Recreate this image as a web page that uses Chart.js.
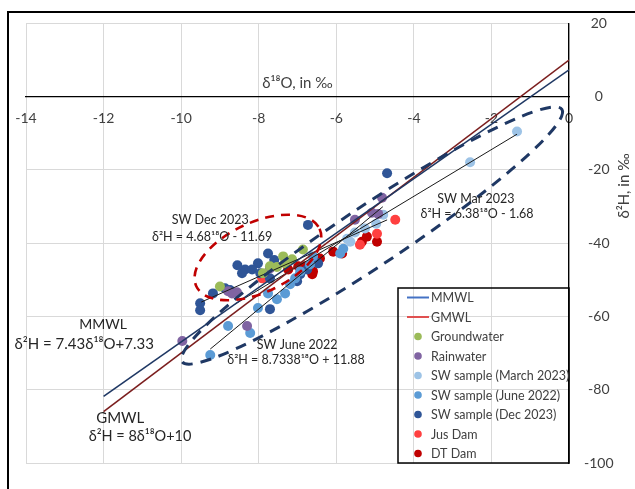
<!DOCTYPE html>
<html><head><meta charset="utf-8">
<style>html,body{margin:0;padding:0;background:#fff;overflow:hidden}#wrap{position:relative;width:635px;height:489px}</style>
<script src="https://cdn.jsdelivr.net/npm/chart.js@4.4.1/dist/chart.umd.min.js"></script>
</head><body><div id="wrap"><canvas id="c" width="635" height="489"></canvas></div>
<script>
// ---- axis ticks ----
const xTicks = [-14, -12, -10, -8, -6, -4, -2, 0];
const yTicks = [20, 0, -20, -40, -60, -80, -100];

// ---- meteoric water lines (end points) ----
const mmwlX = [-12, 0];
const mmwlY = [-81.83, 7.33];
const gmwlX = [-12, 0];
const gmwlY = [-86, 10];

// ---- regression lines (end points) ----
const decFitX = [-9.48, -4.69];
const decFitY = [-56.06, -33.64];
const marFitX = [-8.6, -1.34];
const marFitY = [-56.55, -10.23];
const junFitX = [-9.25, -4.8];
const junFitY = [-68.9, -30.04];

// ---- samples ----
const groundwaterX = [-6.86, -7.37, -7.14, -7.53, -7.89, -7.71, -9.0, -7.32];
const groundwaterY = [-41.7, -43.6, -44.4, -46.5, -48.2, -46.3, -51.8, -45.5];

const rainwaterX = [-9.97, -8.30, -8.69, -8.56, -8.79, -7.71, -4.82, -5.52, -5.08, -4.92];
const rainwaterY = [-66.7, -62.6, -53.7, -53.4, -53.1, -46.9, -27.6, -33.6, -31.7, -32.0];

const swMarX = [-1.34, -2.55, -4.79, -5.26, -5.64, -5.72, -4.97, -5.52];
const swMarY = [-9.5, -17.9, -32.2, -36.0, -39.6, -38.8, -34.7, -37.1];

const swJunX = [-9.25, -8.79, -8.22, -8.02, -7.76, -7.53, -7.32, -7.19, -7.06, -6.93, -6.68, -6.60, -5.90, -5.82];
const swJunY = [-70.5, -62.6, -64.5, -57.7, -53.7, -55.3, -53.7, -51.2, -49.6, -47.7, -45.8, -43.6, -42.8, -41.5];

const swDecX = [-4.69, -6.73, -7.76, -8.02, -8.35, -8.43, -8.17, -7.96, -7.71, -9.18, -8.87, -9.51, -9.51, -7.71, -6.93, -6.75, -7.01, -6.47, -8.74, -7.60, -8.55];
const swDecY = [-20.9, -35.0, -42.8, -45.5, -47.2, -48.2, -47.2, -48.2, -49.6, -53.7, -52.3, -56.4, -58.3, -58.0, -48.5, -47.2, -50.4, -45.5, -52.8, -44.6, -46.0];

const jusDamX = [-4.48, -4.95, -5.39, -7.91];
const jusDamY = [-33.6, -37.4, -40.4, -49.6];

const dtDamX = [-5.21, -4.95, -5.34, -5.85, -6.08, -6.42, -6.60, -6.80, -6.98, -7.24, -6.62];
const dtDamY = [-38.2, -39.6, -39.6, -42.8, -42.3, -44.2, -47.7, -46.3, -46.3, -47.2, -48.5];

const pts = (xs, ys) => xs.map((x, i) => ({x, y: ys[i]}));
const FONT = "Lato, 'Open Sans', 'DejaVu Sans', sans-serif";

function lineDs(label, xs, ys, color, width, legendColor, inLegend) {
  return {type: 'line', label, data: pts(xs, ys), borderColor: color, borderWidth: width,
    pointRadius: 0, fill: false, showLine: true, legendColor, inLegend};
}
function ptDs(label, xs, ys, color) {
  return {type: 'scatter', label, data: pts(xs, ys), backgroundColor: color, borderWidth: 0,
    pointRadius: 5, pointHoverRadius: 5, legendColor: color, inLegend: true};
}

const datasets = [
  lineDs('MMWL', mmwlX, mmwlY, '#1F3864', 1.6, '#4472C4', true),
  lineDs('GMWL', gmwlX, gmwlY, '#7B1E1E', 1.6, '#E05050', true),
  lineDs('decFit', decFitX, decFitY, '#1a1a1a', 1, null, false),
  lineDs('marFit', marFitX, marFitY, '#1a1a1a', 1, null, false),
  lineDs('junFit', junFitX, junFitY, '#1a1a1a', 1, null, false),
  ptDs('Groundwater', groundwaterX, groundwaterY, '#9BBB59'),
  ptDs('Rainwater', rainwaterX, rainwaterY, '#8064A2'),
  ptDs('SW sample (March 2023)', swMarX, swMarY, '#9DC3E6'),
  ptDs('SW sample (June 2022)', swJunX, swJunY, '#5B9BD5'),
  ptDs('SW sample (Dec 2023)', swDecX, swDecY, '#2F5597'),
  ptDs('Jus Dam', jusDamX, jusDamY, '#FF4040'),
  ptDs('DT Dam', dtDamX, dtDamY, '#C00000'),
];

// ---- annotation texts (anchored in data units) ----
const noteTexts = ['SW Dec 2023', 'δ²H = 4.68¹⁸O - 11.69', 'SW Mar 2023', 'δ²H = 6.38¹⁸O - 1.68',
  'SW June 2022', 'δ²H = 8.7338¹⁸O + 11.88', 'MMWL', 'δ²H = 7.43δ¹⁸O+7.33', 'GMWL', 'δ²H = 8δ¹⁸O+10'];
const noteX = [-9.25, -9.20, -2.40, -2.37, -7.01, -7.04, -12.01, -12.5, -11.57, -11.06];
const noteY = [-33.6, -38.2, -27.9, -32.0, -67.8, -71.8, -62.1, -67.5, -87.8, -92.7];
const noteSize = [12.5, 12.5, 12.5, 12.5, 12.5, 12.5, 14, 15, 15, 14.5];

// ---- dashed ellipses: centre in data units ----
const ellipseCX = [-5.08, -8.02];
const ellipseCY = [-37.9, -43.9];

const decorPlugin = {
  id: 'decor',
  beforeDraw(chart) {
    const c = chart.ctx;
    c.save();
    c.fillStyle = '#fff';
    c.fillRect(0, 0, chart.width, chart.height);
    c.strokeStyle = '#000';
    c.lineWidth = 2;
    c.strokeRect(8, 12, 700, 600);
    c.restore();
  },
  afterDatasetsDraw(chart) {
    const c = chart.ctx, xs = chart.scales.x, ys = chart.scales.y;
    const styles = [
      {a: 228, b: 30, rot: -33.6, color: '#1F3864', w: 3, dash: [11, 8]},
      {a: 68, b: 35, rot: -25, color: '#C00000', w: 2.6, dash: [9, 7]},
    ];
    c.save();
    styles.forEach((s, i) => {
      c.beginPath();
      c.setLineDash(s.dash);
      c.strokeStyle = s.color;
      c.lineWidth = s.w;
      c.ellipse(xs.getPixelForValue(ellipseCX[i]), ys.getPixelForValue(ellipseCY[i]), s.a, s.b, s.rot * Math.PI / 180, 0, Math.PI * 2);
      c.stroke();
    });
    c.setLineDash([]);
    // annotation text
    c.fillStyle = '#262626';
    c.textAlign = 'center';
    c.textBaseline = 'middle';
    noteTexts.forEach((t, i) => {
      c.font = noteSize[i] + 'px ' + FONT;
      c.fillText(t, xs.getPixelForValue(noteX[i]), ys.getPixelForValue(noteY[i]));
    });
    // axis titles
    c.fillStyle = '#404040';
    c.font = '15px ' + FONT;
    c.fillText('δ¹⁸O, in ‰', (chart.chartArea.left + chart.chartArea.right) / 2, ys.getPixelForValue(0) - 14);
    c.save();
    c.translate(chart.width - 11, 186);
    c.rotate(-Math.PI / 2);
    c.fillText('δ²H, in ‰', 0, 0);
    c.restore();
    // legend box
    const ca = chart.chartArea;
    const L = ca.right - 171, T = ca.bottom - 175;
    c.strokeStyle = '#000';
    c.lineWidth = 1.5;
    c.strokeRect(L, T, 171, 175);
    let yy = T + 9.5;
    c.textAlign = 'left';
    c.font = '12.5px ' + FONT;
    chart.data.datasets.forEach(ds => {
      if (!ds.inLegend) return;
      if (ds.type === 'line') {
        c.strokeStyle = ds.legendColor;
        c.lineWidth = 2;
        c.beginPath(); c.moveTo(L + 9, yy); c.lineTo(L + 31, yy); c.stroke();
      } else {
        c.fillStyle = ds.legendColor;
        c.beginPath(); c.arc(L + 20, yy, 3.8, 0, Math.PI * 2); c.fill();
      }
      c.fillStyle = '#404040';
      c.fillText(ds.label, L + 33, yy + 0.5);
      yy += 19.5;
    });
    c.restore();
  }
};

new Chart(document.getElementById('c'), {
  type: 'scatter',
  data: {datasets},
  plugins: [decorPlugin],
  options: {
    responsive: false, animation: false, devicePixelRatio: 1,
    layout: {padding: {left: 26, top: 21, bottom: 26, right: 0}},
    plugins: {legend: {display: false}, tooltip: {enabled: false}},
    scales: {
      x: {type: 'linear', min: -14, max: 0, position: {y: 0},
        afterBuildTicks: s => { s.ticks = xTicks.map(v => ({value: v})); },
        grid: {color: '#D9D9D9', lineWidth: 1, drawTicks: false},
        border: {color: '#000', width: 1.3},
        ticks: {font: {family: FONT, size: 14}, color: '#404040', padding: 13, maxRotation: 0, autoSkip: false}},
      y: {type: 'linear', min: -100, max: 20, position: 'right',
        afterBuildTicks: s => { s.ticks = yTicks.map(v => ({value: v})); },
        afterFit: s => { s.width = 66; },
        grid: {color: '#D9D9D9', lineWidth: 1, drawTicks: false},
        border: {color: '#000', width: 1.3},
        ticks: {font: {family: FONT, size: 14}, color: '#404040', padding: 15, crossAlign: 'center', autoSkip: false}}
    }
  }
});
</script></body></html>
